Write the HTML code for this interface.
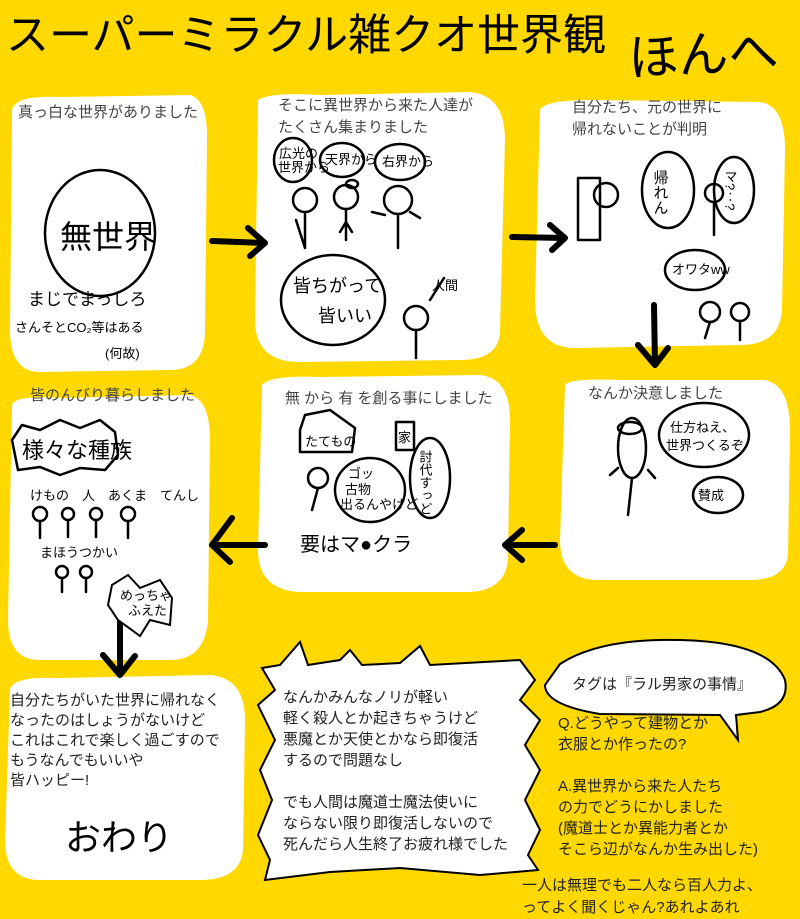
<!DOCTYPE html>
<html><head><meta charset="utf-8"><style>
html,body{margin:0;padding:0;background:#FFD800;}
svg{display:block}
text{font-family:"Liberation Sans","Noto Sans CJK JP",sans-serif;}
.t{font-size:15px;fill:#444}
.s{fill:none;stroke:#000;stroke-width:2.5;stroke-linecap:round;stroke-linejoin:round}
.a{fill:none;stroke:#000;stroke-width:6;stroke-linecap:round;stroke-linejoin:round}
.b{fill:#fff;stroke:#000;stroke-width:2}
.k{font-size:13px;fill:#000}
</style></head><body>
<svg width="800" height="919" viewBox="0 0 800 919" xmlns="http://www.w3.org/2000/svg">
<rect width="800" height="919" fill="#FFD800"/>
<text x="6" y="50" font-size="43" fill="#000" textLength="600" lengthAdjust="spacingAndGlyphs">スーパーミラクル雑クオ世界観</text>
<text x="628" y="72" font-size="50" fill="#000" transform="rotate(-3 700 50)">ほんへ</text>

<path d="M12,110 Q15,95 60,97 L190,95 Q208,100 207,140 L205,330 Q205,370 170,370 L40,372 Q10,372 10,330 Z" fill="#fff"/>
<path d="M258,100 Q270,92 320,95 L470,92 Q505,95 505,140 L500,330 Q500,360 460,360 L300,362 Q255,362 255,320 Z" fill="#fff"/>
<path d="M540,110 Q545,100 590,100 L760,102 Q785,105 785,150 L782,310 Q780,345 740,345 L575,348 Q535,348 535,300 Z" fill="#fff"/>
<path d="M12,405 Q15,395 60,398 L190,395 Q210,400 210,440 L208,620 Q205,660 170,660 L40,660 Q8,660 8,620 Z" fill="#fff"/>
<path d="M262,385 Q270,375 320,377 L480,375 Q510,378 510,420 L508,560 Q505,590 470,592 L300,592 Q258,590 258,550 Z" fill="#fff"/>
<path d="M565,385 Q570,378 620,380 L765,380 Q790,385 790,430 L788,555 Q785,580 750,580 L595,580 Q560,578 560,540 Z" fill="#fff"/>
<path d="M10,690 Q12,676 60,678 L210,675 Q245,678 245,720 L243,850 Q240,880 200,880 L40,880 Q5,880 5,840 Z" fill="#fff"/>
<path d="M262,668 L280,665 L300,642 L308,665 L340,660 L350,650 L362,665 L400,663 L420,646 L430,665 L520,660 L535,680 L520,700 L540,720 L525,745 L540,770 L525,800 L540,830 L528,855 L538,870 L480,875 L400,868 L330,872 L265,880 L270,860 L258,835 L272,800 L260,770 L275,740 L258,705 L275,690 Z" class="b"/>
<path d="M560,664 Q600,638 680,640 Q770,642 785,680 Q790,705 760,712 L736,715 L738,740 L720,715 L600,714 Q545,705 545,685 Z" class="b"/>

<text class="t" x="18" y="117">真っ白な世界がありました</text>
<text class="t" x="278" y="110">そこに異世界から来た人達が</text>
<text class="t" x="278" y="132">たくさん集まりました</text>
<text class="t" x="572" y="112">自分たち、元の世界に</text>
<text class="t" x="572" y="134">帰れないことが判明</text>
<text class="t" x="30" y="400">皆のんびり暮らしました</text>
<text class="t" x="285" y="403">無 から 有 を創る事にしました</text>
<text class="t" x="588" y="398">なんか決意しました</text>

<path class="a" d="M212,241 L265,243 M248,228 L265,243 L250,256"/>
<path class="a" d="M512,237 L565,238 M550,225 L565,238 L552,250"/>
<path class="a" d="M654,305 L655,365 M638,345 L655,365 L668,348"/>
<path class="a" d="M555,545 L505,545 M522,530 L505,545 L522,560"/>
<path class="a" d="M265,545 L212,545 M232,518 L212,545 L230,562"/>
<path class="a" d="M120,612 L120,675 M103,655 L120,675 L135,656"/>

<ellipse cx="100" cy="233" rx="55" ry="63" class="s"/>
<text x="60" y="248" font-size="32" fill="#000">無世界</text>
<text x="28" y="305" font-size="17" fill="#000">まじでまっしろ</text>
<text x="15" y="332" font-size="13" fill="#000">さんそとCO₂等はある</text>
<text x="105" y="358" font-size="13" fill="#000">(何故)</text>

<ellipse cx="293" cy="160" rx="19" ry="22" class="s"/><text class="k" x="279" y="158" font-size="8">広光の</text><text class="k" x="278" y="172" font-size="8">世界から</text>
<ellipse cx="342" cy="160" rx="22" ry="17" class="s"/><text class="k" x="325" y="164" font-size="9">天界から</text>
<ellipse cx="400" cy="162" rx="25" ry="18" class="s"/><text class="k" x="382" y="166" font-size="9">右界から</text>
<circle cx="305" cy="200" r="12" class="s"/><path class="s" d="M305,212 L305,248 M296,220 L305,248"/>
<circle cx="346" cy="197" r="12" class="s"/><path class="s" d="M346,209 L346,240 M340,232 L346,222 L352,232"/>
<circle cx="398" cy="200" r="14" class="s"/><path class="s" d="M398,214 L398,248 M372,212 L385,215 M410,212 L420,218"/>
<ellipse cx="352" cy="184" rx="6" ry="4" class="s"/>
<ellipse cx="333" cy="300" rx="52" ry="45" class="s"/>
<text x="293" y="292" font-size="18" fill="#000">皆ちがって</text>
<text x="318" y="322" font-size="18" fill="#000">皆いい</text>
<circle cx="416" cy="318" r="12" class="s"/><path class="s" d="M416,330 L416,358 M430,300 L444,278"/>
<text class="k" x="432" y="290">人間</text>

<rect x="578" y="178" width="22" height="62" class="s"/>
<circle cx="606" cy="195" r="12" class="s"/>
<ellipse cx="668" cy="190" rx="26" ry="38" class="s"/><text x="660" y="170" font-size="15" fill="#000" writing-mode="tb">帰れん</text>
<circle cx="714" cy="193" r="9" class="s"/><path class="s" d="M714,202 L714,235"/>
<ellipse cx="734" cy="190" rx="20" ry="33" class="s"/><text class="k" x="730" y="170" font-size="11" writing-mode="tb">マ?‥?</text>
<ellipse cx="695" cy="270" rx="30" ry="20" class="s"/><text class="k" x="672" y="274" font-size="12">オワタww</text>
<circle cx="710" cy="312" r="10" class="s"/><path class="s" d="M710,322 L705,338"/>
<circle cx="740" cy="312" r="9" class="s"/><path class="s" d="M740,321 L740,340"/>

<path class="s" d="M12,440 L22,425 L40,430 L60,420 L80,428 L100,420 L115,432 L118,455 L105,470 L80,468 L60,475 L40,467 L18,470 Z"/>
<text x="22" y="458" font-size="22" fill="#000">様々な種族</text>
<text class="k" x="30" y="500" font-size="10">けもの　人　あくま　てんし</text>
<circle cx="40" cy="514" r="7" class="s"/><circle cx="68" cy="514" r="6" class="s"/><circle cx="96" cy="514" r="6" class="s"/><circle cx="128" cy="514" r="7" class="s"/>
<path class="s" d="M40,521 L40,538 M68,520 L68,537 M96,520 L96,537 M128,521 L128,538"/>
<text class="k" x="40" y="557" font-size="9">まほうつかい</text>
<circle cx="62" cy="572" r="6" class="s"/><circle cx="86" cy="572" r="6" class="s"/><path class="s" d="M62,578 L62,592 M86,578 L86,592"/>
<path class="b" d="M112,585 L128,575 L140,588 L160,580 L172,598 L170,625 L150,620 L140,636 L118,620 L108,605 Z"/>
<text class="k" x="120" y="600" font-size="10">めっちゃ</text><text class="k" x="128" y="615" font-size="10">ふえた</text>

<path class="s" d="M300,430 L305,415 L330,410 L355,428 L352,452 L300,452 Z"/>
<text class="k" x="305" y="446">たてもの</text>
<rect x="396" y="422" width="18" height="28" class="s"/><text class="k" x="398" y="442">家</text>
<ellipse cx="430" cy="478" rx="20" ry="40" class="s"/><text class="k" x="425" y="450" font-size="12" writing-mode="tb">討代すっど</text>
<circle cx="318" cy="478" r="10" class="s"/><path class="s" d="M318,488 L312,510"/>
<ellipse cx="370" cy="490" rx="35" ry="32" class="s"/>
<text class="k" x="348" y="478" font-size="10">ゴッ</text><text class="k" x="345" y="494">古物</text><text class="k" x="340" y="509" font-size="9">出るんやけど</text>
<text x="300" y="551" font-size="20" fill="#000">要はマ●クラ</text>

<ellipse cx="630" cy="428" rx="12" ry="6" class="s"/>
<ellipse cx="632" cy="448" rx="14" ry="30" class="s"/><path class="s" d="M632,478 L628,515 M610,475 L618,468 M648,470 L655,478"/>
<ellipse cx="704" cy="435" rx="45" ry="32" class="s"/>
<text class="k" x="670" y="432" font-size="14">仕方ねえ、</text><text class="k" x="666" y="450" font-size="14">世界つくるぞ</text>
<ellipse cx="718" cy="495" rx="25" ry="18" class="s"/><text class="k" x="698" y="500" font-size="14">賛成</text>

<g font-size="15" fill="#222">
<text x="10" y="705">自分たちがいた世界に帰れなく</text>
<text x="10" y="725">なったのはしょうがないけど</text>
<text x="10" y="745">これはこれで楽しく過ごすので</text>
<text x="10" y="765">もうなんでもいいや</text>
<text x="10" y="785">皆ハッピー!</text>
<text x="283" y="702">なんかみんなノリが軽い</text>
<text x="283" y="723">軽く殺人とか起きちゃうけど</text>
<text x="283" y="744">悪魔とか天使とかなら即復活</text>
<text x="283" y="765">するので問題なし</text>
<text x="283" y="807">でも人間は魔道士魔法使いに</text>
<text x="283" y="828">ならない限り即復活しないので</text>
<text x="283" y="849">死んだら人生終了お疲れ様でした</text>
<text x="572" y="689">タグは『ラル男家の事情』</text>
<text x="558" y="728">Q.どうやって建物とか</text>
<text x="558" y="749">衣服とか作ったの?</text>
<text x="558" y="791">A.異世界から来た人たち</text>
<text x="558" y="812">の力でどうにかしました</text>
<text x="558" y="833">(魔道士とか異能力者とか</text>
<text x="558" y="854">そこら辺がなんか生み出した)</text>
<text x="522" y="890">一人は無理でも二人なら百人力よ、</text>
<text x="522" y="912">ってよく聞くじゃん?あれよあれ</text>
</g>
<text x="65" y="850" font-size="36" fill="#000">おわり</text>
</svg>
</body></html>
